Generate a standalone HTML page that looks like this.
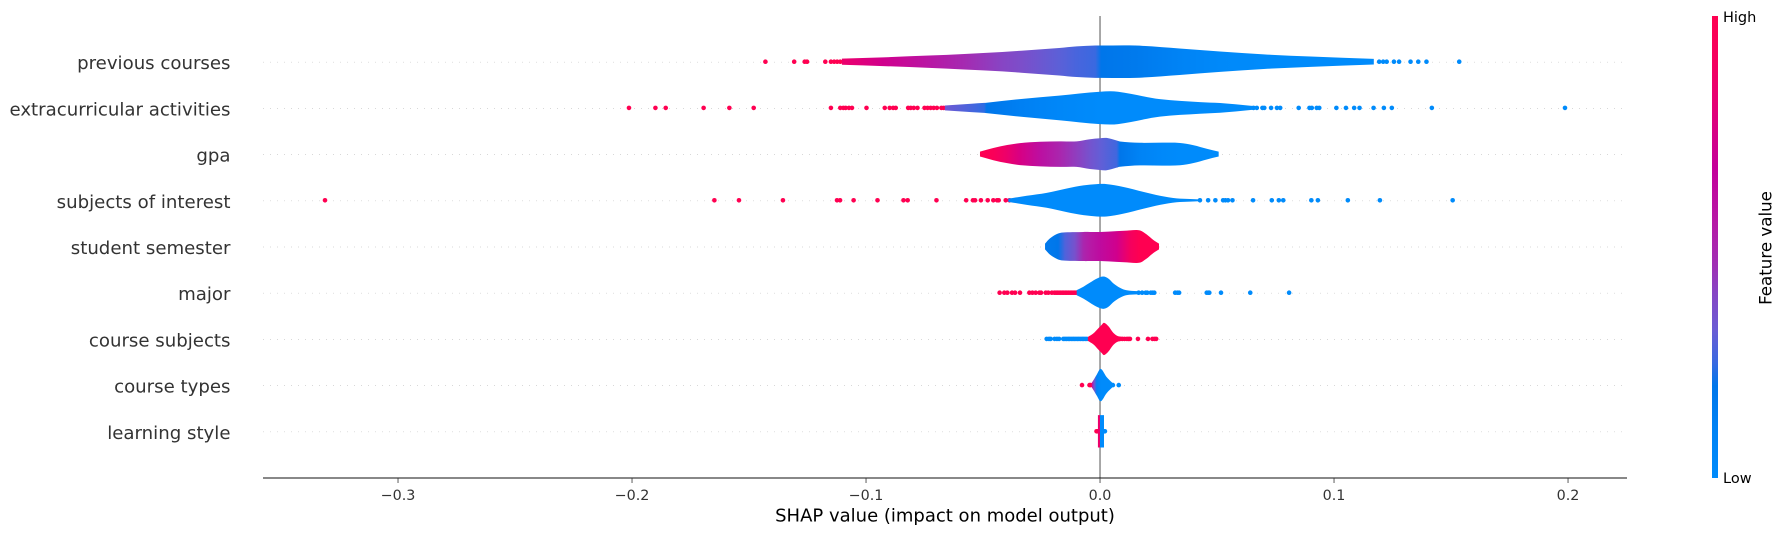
<!DOCTYPE html>
<html lang="en">
<head>
<meta charset="utf-8">
<title>SHAP summary violin plot</title>
<style>
html,body{margin:0;padding:0;background:#fff;width:1785px;height:536px;overflow:hidden}
svg{display:block;font-family:"DejaVu Sans","Liberation Sans",sans-serif}
</style>
</head>
<body>
<svg id="chart" xmlns="http://www.w3.org/2000/svg" width="1785" height="536" viewBox="0 0 1785 536">
  <defs id="defs"></defs>
  <g id="grid"></g>
  <g id="marks"></g>
  <g id="axis"></g>
  <g id="labels"></g>
  <g id="cbar"></g>
</svg>
<script>
const categories = ["previous courses","extracurricular activities","gpa","subjects of interest","student semester","major","course subjects","course types","learning style"];
const tickValues = [-0.3,-0.2,-0.1,0,0.1,0.2];
const tickLabels = ["\u22120.3","\u22120.2","\u22120.1","0.0","0.1","0.2"];
const axisTitle = "SHAP value (impact on model output)";

const highFeatureDots = [
  [-0.143,-0.1307,-0.1262,-0.1252,-0.1174,-0.115,-0.1136,-0.1123,-0.111],
  [-0.2013,-0.19,-0.1856,-0.1694,-0.1584,-0.148,-0.115,-0.111,-0.1097,-0.1087,-0.1073,-0.106,-0.0998,-0.092,-0.0899,-0.0884,-0.0873,-0.082,-0.0809,-0.0796,-0.078,-0.075,-0.0737,-0.0724,-0.0711,-0.0697,-0.0678,-0.0668],
  [],
  [-0.3312,-0.1648,-0.1543,-0.1355,-0.1124,-0.1111,-0.1053,-0.0951,-0.084,-0.0822,-0.0699,-0.0572,-0.0543,-0.0534,-0.0509,-0.048,-0.0456,-0.044,-0.0433,-0.0403,-0.0387],
  [],
  [-0.0429,-0.0409,-0.0396,-0.0376,-0.0363,-0.0342,-0.0302,-0.0289,-0.0275,-0.0259,-0.0252,-0.0232,-0.0221,-0.0206,-0.0195,-0.0188,-0.0182,-0.0175,-0.0168,-0.0161,-0.0155,-0.0148,-0.0142,-0.0135,-0.0128,-0.0121,-0.0115,-0.0108,-0.0102],
  [0.0085,0.0095,0.0105,0.0115,0.0122,0.0128,0.0162,0.0205,0.0224,0.0233,0.024],
  [-0.0077,-0.0045,-0.004],
  [-0.0015,-0.001]
];
const lowFeatureDots = [
  [0.1193,0.121,0.1225,0.1256,0.1278,0.1327,0.136,0.1395,0.1535],
  [0.0656,0.067,0.0694,0.0702,0.0731,0.0756,0.077,0.0849,0.0895,0.0905,0.0926,0.0937,0.101,0.1051,0.1086,0.1109,0.1169,0.1213,0.1247,0.1418,0.1987],
  [],
  [0.0427,0.0462,0.0493,0.0526,0.0536,0.0547,0.0566,0.0654,0.0734,0.0764,0.0783,0.0903,0.0931,0.1059,0.1196,0.1507],
  [],
  [0.0165,0.018,0.0195,0.0202,0.0217,0.0225,0.0232,0.0321,0.0331,0.0338,0.0456,0.0463,0.0467,0.0517,0.0642,0.0808],
  [-0.0228,-0.0218,-0.0211,-0.0194,-0.0184,-0.0175,-0.0157,-0.015,-0.0143,-0.0136,-0.013,-0.0123,-0.0116,-0.011,-0.0103,-0.0096,-0.009,-0.0083,-0.0076,-0.007,-0.0063,-0.0056],
  [0.0045,0.0055,0.008],
  [0.0018,0.0021]
];

const violinValues = [
  [-0.1103,-0.0927,-0.073,-0.058,-0.0418,-0.0337,-0.0175,-0.01,-0.002,0.0005,0.015,0.034,0.0513,0.07,0.09,0.117],
  [-0.0663,-0.055,-0.0495,-0.0485,-0.0337,-0.0175,0,0.0077,0.0256,0.0427,0.0513,0.0643,0.067],
  [-0.0513,-0.0456,-0.0397,-0.0342,-0.0256,-0.0171,-0.01,-0.0043,0,0.0028,0.0071,0.0085,0.017,0.027,0.0342,0.04,0.0456,0.0507],
  [-0.0392,-0.0313,-0.0228,-0.0142,-0.0071,-0.0014,0.0028,0.0098,0.0185,0.0256,0.0327,0.0385,0.0434],
  [-0.0235,-0.0214,-0.0179,-0.015,-0.0107,-0.0071,-0.0043,0,0.0071,0.0115,0.0128,0.017,0.0199,0.0228,0.0252],
  [-0.00997,-0.0071,-0.0043,-0.0014,0.0014,0.0036,0.0057,0.0085,0.0114,0.0157,0.0202],
  [-0.0052,-0.0029,-0.0007,0.0007,0.0017,0.0036,0.0057,0.0078,0.0128],
  [-0.0035,-0.0025,-0.0014,0.0003,0.0028,0.0057],
  [-0.0009,-0.0001,0,0.0017]
];
const violinHeights = [
  [0.19,0.27,0.38,0.48,0.6,0.68,0.85,0.95,1,1,1,0.82,0.63,0.45,0.32,0.175],
  [0.15,0.26,0.31,0.32,0.55,0.76,1,1,0.54,0.36,0.3,0.13,0.09],
  [0.15,0.38,0.56,0.68,0.76,0.79,0.79,0.92,0.98,1,0.84,0.78,0.7,0.71,0.69,0.55,0.33,0.15],
  [0.1,0.28,0.46,0.73,0.92,1,1,0.83,0.52,0.28,0.12,0.08,0.05],
  [0.18,0.5,0.8,0.87,0.89,0.9,0.9,0.9,0.95,0.98,1,1,0.75,0.4,0.18],
  [0.16,0.37,0.62,0.87,1,0.87,0.58,0.31,0.15,0.1,0.08],
  [0.12,0.33,0.66,0.87,1,0.78,0.37,0.16,0.1],
  [0.15,0.38,0.65,1,0.5,0.08],
  [1,1,1,1]
];
const violinFeature = [
  [0.85,0.72,0.57,0.48,0.4,0.37,0.3,0.27,0.25,0.2,0.17,0.1,0.03,0,0,0],
  [0.33,0.27,0.24,0.2,0.12,0.05,0,0,0,0,0,0,0],
  [1,0.95,0.85,0.75,0.6,0.5,0.42,0.35,0.31,0.29,0.26,0.2,0.1,0.02,0,0,0,0],
  [0.05,0,0,0,0,0,0,0,0,0,0,0,0],
  [0.18,0.18,0.2,0.28,0.36,0.5,0.55,0.62,0.72,0.85,0.9,1,1,1,1],
  [0,0,0,0,0,0,0,0,0,0,0],
  [1,1,1,1,1,1,1,1,1],
  [0.6,0.35,0.1,0,0,0],
  [0.85,0.85,0,0]
];

const colorRamp = [[0,"#008bfb"],[0.1,"#0083f5"],[0.2,"#0076ea"],[0.25,"#3a69e0"],[0.32,"#6a5cd4"],[0.4,"#8745c4"],[0.46,"#a02fb4"],[0.55,"#b61aa6"],[0.67,"#c4009a"],[0.8,"#e30077"],[0.9,"#f4005f"],[1,"#ff0051"]];

const NS = "http://www.w3.org/2000/svg";
const plot = {left:263,right:1627,top:16,bottom:478,xMin:-0.3577,xMax:0.2252,yMin:-1,yMax:9,rowHalf:0.35,dotR:2.3,centerShift:-0.5};
const xScale = v => plot.left + (v - plot.xMin) / (plot.xMax - plot.xMin) * (plot.right - plot.left);
const yScale = i => plot.bottom - ((categories.length - 1 - i) - plot.yMin) / (plot.yMax - plot.yMin) * (plot.bottom - plot.top);
const heightScale = h => h * plot.rowHalf * (plot.bottom - plot.top) / (plot.yMax - plot.yMin);

function make(tag, attrs, parent, text){
  const el = document.createElementNS(NS, tag);
  for (const k in attrs) el.setAttribute(k, attrs[k]);
  if (text !== undefined) el.textContent = text;
  parent.appendChild(el);
  return el;
}
function hexToRgb(h){return [1,3,5].map(i=>parseInt(h.substr(i,2),16));}
function featureColor(t){
  for (let i=1;i<colorRamp.length;i++){
    if (t<=colorRamp[i][0]){
      const a=colorRamp[i-1],b=colorRamp[i],f=(t-a[0])/(b[0]-a[0]);
      const ca=hexToRgb(a[1]),cb=hexToRgb(b[1]);
      return "rgb("+ca.map((c,j)=>Math.round(c+(cb[j]-c)*f)).join(",")+")";
    }
  }
  return colorRamp[colorRamp.length-1][1];
}
/* smooth outline through a list of [x,y] points (monotone in x) */
function smoothSegments(pts){
  let d = "";
  for (let k=0;k<pts.length-1;k++){
    const p0=pts[Math.max(k-1,0)],p1=pts[k],p2=pts[k+1],p3=pts[Math.min(k+2,pts.length-1)];
    const seg=p2[0]-p1[0];
    const s1=(p2[1]-p0[1])/((p2[0]-p0[0])||1);
    const s2=(p3[1]-p1[1])/((p3[0]-p1[0])||1);
    const c1x=p1[0]+seg/3,c1y=p1[1]+s1*seg/3,c2x=p2[0]-seg/3,c2y=p2[1]-s2*seg/3;
    d+="C"+c1x.toFixed(2)+" "+c1y.toFixed(2)+" "+c2x.toFixed(2)+" "+c2y.toFixed(2)+" "+p2[0].toFixed(2)+" "+p2[1].toFixed(2);
  }
  return d;
}
const slug = s => s.replace(/\s+/g,"-");
const defs = document.getElementById("defs");
const grid = document.getElementById("grid");
const marks = document.getElementById("marks");
const axis = document.getElementById("axis");
const labels = document.getElementById("labels");
const cbar = document.getElementById("cbar");

/* row guides + zero line */
categories.forEach((name,i)=>{
  const guide = make("line",{x1:plot.left,x2:plot.right,y1:yScale(i),y2:yScale(i),stroke:"#cccccc","stroke-width":0.7,"stroke-dasharray":"1 6"},grid);
  
  
});
const zero = make("line",{x1:xScale(0),x2:xScale(0),y1:plot.top,y2:plot.bottom,stroke:"#999999","stroke-width":1.7},grid);



/* dots + violins */
categories.forEach((name,i)=>{
  const cy = yScale(i) + plot.centerShift;
  const g = make("g",{},marks);
  
  
  highFeatureDots[i].forEach(v=>{
    const d = make("circle",{cx:xScale(v),cy:cy,r:plot.dotR,fill:featureColor(1)},g);
    
    
  });
  lowFeatureDots[i].forEach(v=>{
    const d = make("circle",{cx:xScale(v),cy:cy,r:plot.dotR,fill:featureColor(0)},g);
    
    
  });
  const xs = violinValues[i], hs = violinHeights[i], cs = violinFeature[i];
  const x0 = xScale(xs[0]), x1 = xScale(xs[xs.length-1]);
  const grad = make("linearGradient",{id:"violin-grad-"+i,gradientUnits:"userSpaceOnUse",x1:x0,x2:x1,y1:0,y2:0},defs);
  xs.forEach((v,k)=>{
    make("stop",{offset:(xScale(v)-x0)/(x1-x0),"stop-color":featureColor(cs[k])},grad);
  });
  const top = xs.map((v,k)=>[xScale(v),cy-heightScale(hs[k])]);
  const bottom = xs.map((v,k)=>[xScale(v),cy+heightScale(hs[k])]);
  const outline = "M"+top[0][0].toFixed(2)+" "+top[0][1].toFixed(2)+smoothSegments(top)
    +"L"+bottom[bottom.length-1][0].toFixed(2)+" "+bottom[bottom.length-1][1].toFixed(2)
    +smoothSegments(bottom.slice().reverse().map(p=>[p[0],p[1]]))+"Z";
  const shape = make("path",{d:outline,fill:"url(#violin-grad-"+i+")"},g);
  
  

  const label = make("text",{x:230.5,y:yScale(i)+7,"text-anchor":"end","font-size":18.15,fill:"#333333"},labels,name);
  
  
});

/* x axis */
const spine = make("line",{x1:plot.left,x2:plot.right,y1:plot.bottom,y2:plot.bottom,stroke:"#111111","stroke-width":1.1},axis);


tickValues.forEach((v,i)=>{
  const t = make("line",{x1:xScale(v),x2:xScale(v),y1:plot.bottom,y2:plot.bottom+5,stroke:"#333333","stroke-width":0.8},axis);
  
  
  const l = make("text",{x:xScale(v),y:500,"text-anchor":"middle","font-size":14.3,fill:"#333333"},axis,tickLabels[i]);
  
  
});
const title = make("text",{x:(plot.left+plot.right)/2,y:521.5,"text-anchor":"middle","font-size":18,fill:"#000000"},axis,axisTitle);



/* colorbar */
const cg = make("linearGradient",{id:"cbar-grad",x1:0,x2:0,y1:1,y2:0},defs);
colorRamp.forEach(s=>make("stop",{offset:s[0],"stop-color":s[1]},cg));
const bar = make("rect",{x:1712,y:16,width:6,height:462,fill:"url(#cbar-grad)"},cbar);


const high = make("text",{x:1723,y:22,"font-size":14.5,fill:"#000000"},cbar,"High");


const low = make("text",{x:1723,y:483,"font-size":14.5,fill:"#000000"},cbar,"Low");


const fv = make("text",{x:0,y:0,transform:"translate(1771.5 248) rotate(-90)","text-anchor":"middle","font-size":16.67,fill:"#000000"},cbar,"Feature value");


</script>
</body>
</html>
